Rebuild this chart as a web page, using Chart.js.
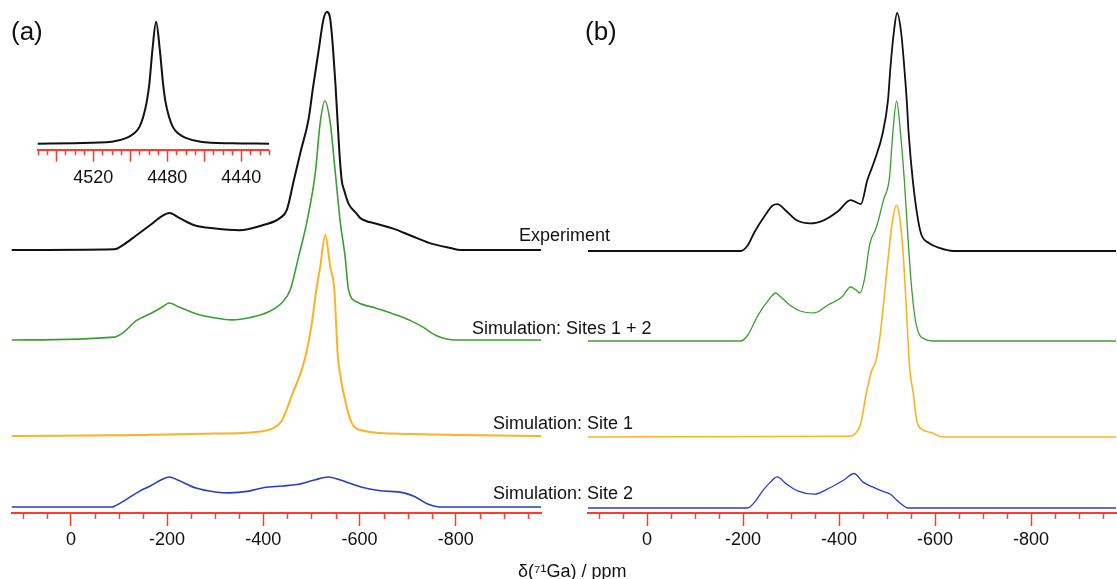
<!DOCTYPE html>
<html>
<head>
<meta charset="utf-8">
<script src="https://cdn.jsdelivr.net/npm/chart.js@4.4.1/dist/chart.umd.min.js"></script>
<style>
  body { margin: 0; background: #fff; }
  #wrap { position: relative; width: 1117px; height: 579px; overflow: hidden; font-family: "Liberation Sans", Arial, sans-serif; color: #111; }
  #wrap canvas { position: absolute; left: 0; top: 0; }
  .lbl { position: absolute; font-size: 18px; line-height: 1; white-space: nowrap; }
  .panel { position: absolute; font-size: 26px; line-height: 1; }
</style>
</head>
<body>
<div id="wrap">
  <canvas id="chartA" width="1117" height="579"></canvas>
  <canvas id="chartB" width="1117" height="579"></canvas>
  <canvas id="chartInset" width="1117" height="579"></canvas>
  <div class="panel" style="left:11px; top:18px;">(a)</div>
  <div class="panel" style="left:585px; top:18px;">(b)</div>
  <div class="lbl" style="left:519px; top:226px;">Experiment</div>
  <div class="lbl" style="left:472px; top:319px;">Simulation: Sites 1 + 2</div>
  <div class="lbl" style="left:493px; top:414px;">Simulation: Site 1</div>
  <div class="lbl" style="left:493px; top:484px;">Simulation: Site 2</div>
  <div class="lbl" style="left:518px; top:562px;">δ(⁷¹Ga) / ppm</div>
</div>
<script>
// spectra: [ppm, relative intensity (% of trace max)]
const expA = [[123,0],[-90,0.3],[-110,2.3],[-135,6],[-165,10.5],[-190,14.3],[-205,15.5],[-225,13.5],[-255,10.5],[-300,9],[-350,8.3],[-400,10.5],[-435,13.5],[-449,17],[-463,29],[-477,41],[-494,55],[-503,68],[-515,84],[-525,97],[-532,100],[-539,97],[-545,84],[-550,69],[-554,55],[-558,41],[-563,29],[-568,25],[-577,19.5],[-595,15],[-601,13.5],[-635,11],[-670,9],[-707,6],[-744,3],[-789,0.8],[-810,0],[-977,0]];
const sumA = [[123,0],[-90,1.2],[-110,3.3],[-135,8],[-165,11],[-190,13.8],[-204,15.5],[-225,13.8],[-260,11],[-300,9.2],[-335,8.4],[-373,9.4],[-410,11.7],[-440,15.9],[-456,21],[-473,34.7],[-490,49],[-508,70],[-518,90.8],[-528,100],[-539,90.8],[-549.5,70],[-560,49],[-570,34.7],[-577,21],[-595,15.9],[-633,13.4],[-670,10.9],[-707,8],[-729,5.7],[-759,1.9],[-781,0.4],[-800,0],[-977,0]];
const site1A = [[123,0],[-150,0.5],[-300,1.2],[-373,1.8],[-417,3.5],[-439,8],[-462,22],[-477,31],[-488,40],[-500,55],[-510,72.6],[-518,84],[-528.7,100],[-539,84],[-547.5,72.6],[-554.7,40],[-560,30],[-566,22],[-581,8],[-595,3.5],[-670,1.2],[-818,0.5],[-977,0]];
const site2A = [[123,0],[-85,0],[-91,3],[-113,23],[-143,53],[-165,70],[-187,90],[-205,100],[-222,90],[-260,63],[-300,50],[-330,47],[-370,53],[-402,65],[-440,70],[-470,75],[-506,90],[-535,100],[-560,90],[-603,67],[-640,55],[-692,47],[-714,35],[-744,8],[-766,0],[-977,0]];

const expB = [[123,0],[-195,0],[-210,2.4],[-224,8],[-246,15],[-261,19],[-271.5,19.7],[-290,16.8],[-311,13],[-340,11.6],[-369,13],[-398.5,16.8],[-424,21.4],[-445.5,19.7],[-459,29.8],[-474,38],[-491,49.6],[-502,63.4],[-507,77],[-514,91.6],[-521,100],[-529.5,91.6],[-536,77],[-541,63.4],[-545,49.6],[-553.6,29.8],[-565.5,12],[-572.6,6.3],[-587,3.4],[-609,1.3],[-638,0],[-977,0]];
const sumB = [[123,0],[-195,0],[-210,2.5],[-232,11],[-253,17],[-268,20],[-275,19],[-297,15],[-319,12.5],[-348,11.7],[-377,15],[-406,18.3],[-424,22.5],[-435,21.3],[-443.5,20],[-453,25.8],[-464,40.4],[-478,47.5],[-493,59],[-505,68],[-512,86.7],[-520,100],[-528,86.7],[-536,67],[-543,45],[-550,25],[-558,10],[-566,3.2],[-580,0.7],[-600,0],[-977,0]];
const site1B = [[123,0],[-420,0.3],[-435,1.7],[-445,5.6],[-457,19],[-467,28],[-477,33],[-485,43],[-493,58],[-504,80.6],[-511,92.7],[-519.5,100],[-525.6,95.7],[-533,80.6],[-539.6,58],[-547,30],[-554.5,19],[-562,7],[-573,3.3],[-594,1.8],[-609,0.3],[-620,0],[-977,0]];
const site2B = [[123,0],[-210,0],[-224,17],[-242,52],[-257,75],[-271,90],[-290,70],[-315,49],[-348,40],[-380,58],[-410,81],[-431,100],[-450,75],[-470,61],[-490,49],[-507,40],[-520,23],[-535,6],[-543,0],[-977,0]];

// inset: peak near 4486 ppm
const insetPeak = [[4550,0.3],[4530,0.7],[4510,1.8],[4502,5],[4498,8.5],[4495,14],[4493,22],[4491,35],[4489.6,50],[4488,77],[4486,100],[4484,77],[4482.3,50],[4481,35],[4479,22],[4477,14],[4474,8.5],[4470,5],[4462,1.8],[4445,0.6],[4425,0.3]];

// axis ranges / ticks
const mainRange = [-977, 123];
const mainStep = 50, mainMajor = 200;
const insetRange = [4425, 4550];
const insetStep = 5, insetMajor = 20, insetLabelEvery = 40;

const RED = '#ff3b2f';
Chart.defaults.font.family = '"Liberation Sans", Arial, sans-serif';
Chart.defaults.color = '#111';

const minorTicks = {
  id: 'minorTicks',
  afterDraw(chart, args, opts) {
    const sc = chart.scales.x, ctx = chart.ctx;
    ctx.save();
    ctx.strokeStyle = RED;
    ctx.lineWidth = 1.5;
    sc.ticks.forEach(t => {
      if (t.value % opts.major !== 0) {
        const x = Math.round(sc.getPixelForValue(t.value)) + 0.5;
        ctx.beginPath();
        ctx.moveTo(x, sc.top);
        ctx.lineTo(x, sc.top + opts.len);
        ctx.stroke();
      }
    });
    ctx.restore();
  }
};

// traces: {data, color, width, base (px above axis line), height (px for 100%)}
function makeChart(id, traces, o) {
  const plotH = o.axisY - o.top;
  const scales = {
    x: {
      type: 'linear', reverse: true, min: o.range[0], max: o.range[1],
      afterFit: s => { s.height = o.axisH; },
      afterBuildTicks: s => {
        const ticks = [];
        for (let v = Math.ceil(o.range[0] / o.step) * o.step; v <= o.range[1]; v += o.step) ticks.push({ value: v });
        s.ticks = ticks;
      },
      border: { display: true, color: RED, width: 2 },
      grid: {
        display: true, drawOnChartArea: false, drawTicks: true, tickLength: o.majorLen,
        tickWidth: 1.5,
        tickColor: c => (c.tick && c.tick.value % o.major === 0) ? RED : 'rgba(0,0,0,0)'
      },
      ticks: {
        stepSize: o.step, autoSkip: false, maxRotation: 0,
        padding: o.labelPad, font: { size: 18 }, color: '#111',
        callback: v => (v % o.labelEvery === 0) ? String(v) : ''
      }
    }
  };
  const datasets = traces.map((t, i) => {
    const span = 100 * plotH / t.height;
    const min = -t.base * 100 / t.height;
    scales['y' + i] = { display: false, min: min, max: min + span };
    return {
      data: t.data.map(p => ({ x: p[0], y: p[1] })),
      yAxisID: 'y' + i,
      borderColor: t.color, borderWidth: t.width,
      pointRadius: 0, cubicInterpolationMode: 'monotone', clip: false, fill: false
    };
  });
  return new Chart(document.getElementById(id), {
    type: 'line',
    data: { datasets },
    options: {
      responsive: false, animation: false, events: [],
      layout: { padding: { left: o.left, right: 1117 - o.right, top: o.top, bottom: 579 - o.axisY - o.axisH } },
      plugins: { legend: { display: false }, tooltip: { enabled: false }, minorTicks: { major: o.major, len: o.minorLen } },
      scales
    },
    plugins: [minorTicks]
  });
}

const BLACK = '#111', GREEN = '#3c9e32', ORANGE = '#ffb125', BLUE = '#2440c4';
const mainOpts = { range: mainRange, step: mainStep, major: mainMajor, labelEvery: mainMajor, top: 0, axisY: 513, axisH: 66, majorLen: 13, minorLen: 6, labelPad: 3 };

makeChart('chartA', [
  { data: expA, color: BLACK, width: 2, base: 263, height: 238 },
  { data: sumA, color: GREEN, width: 1.6, base: 173, height: 239 },
  { data: site1A, color: ORANGE, width: 2, base: 77, height: 201 },
  { data: site2A, color: BLUE, width: 1.6, base: 6, height: 30 }
], Object.assign({ left: 11.7, right: 541 }, mainOpts));

makeChart('chartB', [
  { data: expB, color: BLACK, width: 1.8, base: 262, height: 238 },
  { data: sumB, color: GREEN, width: 1.3, base: 172, height: 240 },
  { data: site1B, color: ORANGE, width: 1.6, base: 76, height: 232 },
  { data: site2B, color: BLUE, width: 1.3, base: 5, height: 34.5 }
], Object.assign({ left: 588, right: 1116 }, mainOpts));

makeChart('chartInset', [
  { data: insetPeak, color: BLACK, width: 2, base: 5.7, height: 122.3 }
], { range: insetRange, step: insetStep, major: insetMajor, labelEvery: insetLabelEvery, top: 0, axisY: 149.7, axisH: 40, majorLen: 12, minorLen: 5.5, labelPad: 6, left: 37.7, right: 269 });
</script>
</body>
</html>
